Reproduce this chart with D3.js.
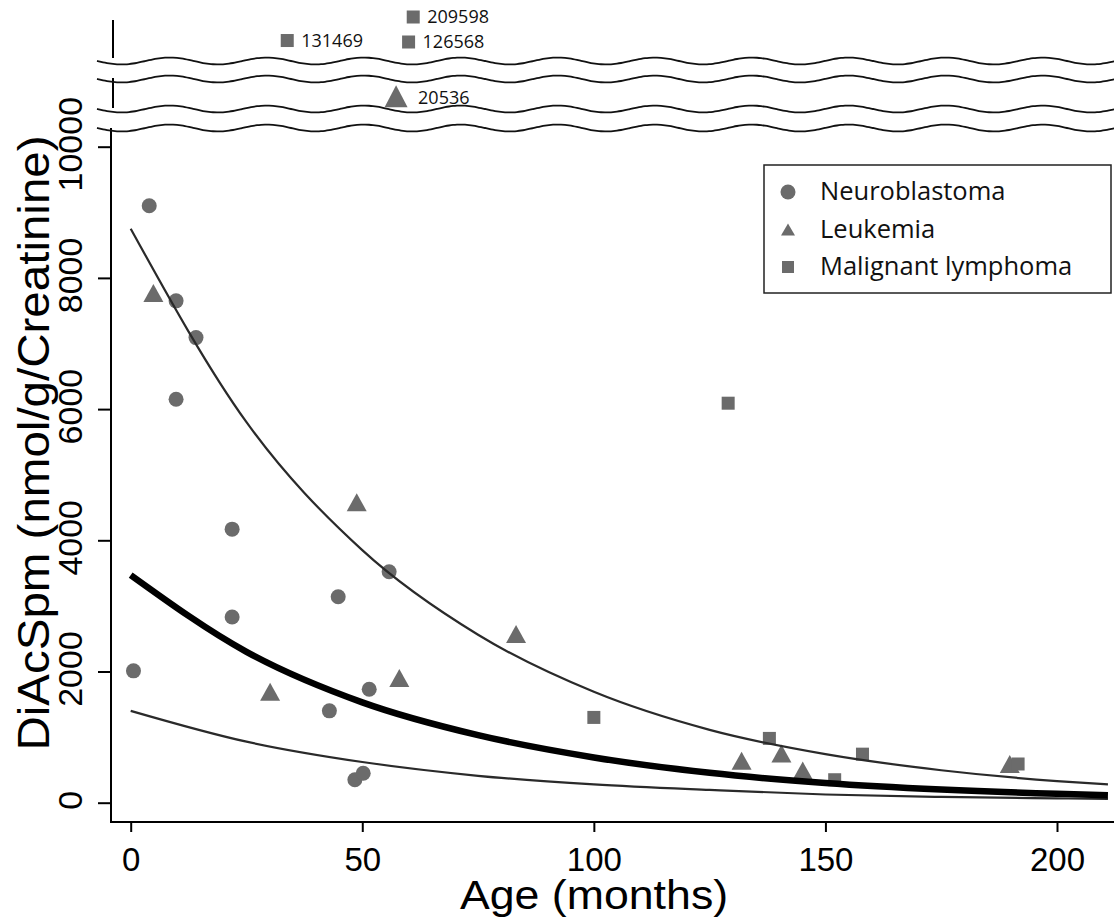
<!DOCTYPE html>
<html>
<head>
<meta charset="utf-8">
<script src="https://cdn.jsdelivr.net/npm/d3@7"></script>
<style>
  body { margin: 0; background: #fff; }
  .axis-text { font-family: "Liberation Sans", Arial, sans-serif; fill: #000; }
  .note { font-family: "Open Sans", "Noto Sans", sans-serif; fill: #111; }
</style>
</head>
<body>
<div id="chart"></div>
<script>
// ---- data ----
// age in months, DiAcSpm value
const neuroAge   = [0.6, 4.0, 9.8, 14.1, 9.8, 21.9, 21.9, 44.8, 55.8, 51.5, 42.9, 48.4, 50.2];
const neuroValue = [2010, 9100, 7650, 7090, 6150, 4170, 2830, 3140, 3520, 1730, 1400, 350, 450];

const leukAge   = [4.9, 30.1, 48.8, 58.0, 83.2, 131.9, 140.5, 145.1, 189.8];
const leukValue = [7770, 1690, 4580, 1900, 2570, 640, 750, 490, 590];

const lymphAge   = [100, 129, 137.9, 152, 158, 191.6];
const lymphValue = [1300, 6090, 980, 350, 740, 590];

// values above the axis break
const outlierAge   = [33.8, 61, 60, 57.3];
const outlierValue = [131469, 209598, 126568, 20536];
const outlierType  = ['lymph', 'lymph', 'lymph', 'leuk'];

// fitted curve and its band, read at these ages
const fitAge   = [0, 25, 50, 75, 100, 125, 150, 175, 200, 211];
const fitMid   = [3470, 2300, 1530, 1030, 690, 455, 300, 200, 135, 115];
const fitUpper = [8750, 5800, 3850, 2560, 1690, 1110, 740, 495, 330, 280];
const fitLower = [1400, 930, 620, 410, 280, 195, 125, 88, 66, 58];

const xTicks = [0, 50, 100, 150, 200];
const yTicks = [0, 2000, 4000, 6000, 8000, 10000];

const legendLabels = ['Neuroblastoma', 'Leukemia', 'Malignant lymphoma'];

// ---- chart ----
const W = 1114, H = 924;
const markColor = '#6b6b6b';

const svg = d3.select('#chart').append('svg')
  .attr('width', W).attr('height', H);

const x = d3.scaleLinear().domain([0, 200]).range([130.7, 1057]);
const y = d3.scaleLinear().domain([0, 10000]).range([802.7, 146.7]);
// scales for the two bands above the breaks
const yTop = d3.scaleLinear().domain([126568, 209598]).range([42, 17]);
const yMid = d3.scaleLinear().domain([20000, 21000]).range([106, 88]);

const axisX0 = 111, axisY0 = 822;

function triPath(cx, cy, w, h) {
  return `M${cx},${cy - h / 2}L${cx + w / 2},${cy + h / 2}L${cx - w / 2},${cy + h / 2}Z`;
}

// markers (drawn under the lines)
const marks = svg.append('g');

marks.selectAll('.neuro')
  .data(d3.zip(neuroAge, neuroValue))
  .join('circle')
  .attr('class', 'neuro')
  .attr('cx', d => x(d[0]))
  .attr('cy', d => y(d[1]))
  .attr('r', 7.5)
  .attr('fill', markColor);

marks.selectAll('.leuk')
  .data(d3.zip(leukAge, leukValue))
  .join('path')
  .attr('class', 'leuk')
  .attr('d', d => triPath(x(d[0]), y(d[1]), 20, 18))
  .attr('fill', markColor);

marks.selectAll('.lymph')
  .data(d3.zip(lymphAge, lymphValue))
  .join('rect')
  .attr('class', 'lymph')
  .attr('x', d => x(d[0]) - 6.5)
  .attr('y', d => y(d[1]) - 6.5)
  .attr('width', 13).attr('height', 13)
  .attr('fill', markColor);

// outliers above the breaks
const outliers = outlierAge.map((a, i) => ({ age: a, value: outlierValue[i], type: outlierType[i] }));
const og = svg.append('g');
outliers.forEach(d => {
  const cx = x(d.age);
  if (d.type === 'lymph') {
    const cy = yTop(d.value);
    og.append('rect')
      .attr('x', cx - 6.5).attr('y', cy - 6.5)
      .attr('width', 13).attr('height', 13)
      .attr('fill', markColor);
    og.append('text').attr('class', 'note')
      .attr('x', cx + 14).attr('y', cy).attr('dy', '0.36em')
      .style('font-size', '18px')
      .text(d.value);
  } else {
    const cy = yMid(d.value);
    og.append('path')
      .attr('d', triPath(cx, cy, 23, 22))
      .attr('fill', markColor);
    og.append('text').attr('class', 'note')
      .attr('x', cx + 22).attr('y', cy + 1).attr('dy', '0.36em')
      .style('font-size', '18px')
      .text(d.value);
  }
});

// fitted lines
const line = d3.line()
  .x(d => x(d[0]))
  .y(d => y(d[1]))
  .curve(d3.curveMonotoneX);

svg.append('path')
  .datum(d3.zip(fitAge, fitUpper))
  .attr('d', line)
  .attr('fill', 'none').attr('stroke', '#2a2a2a').attr('stroke-width', 2.2);

svg.append('path')
  .datum(d3.zip(fitAge, fitLower))
  .attr('d', line)
  .attr('fill', 'none').attr('stroke', '#2a2a2a').attr('stroke-width', 2.2);

svg.append('path')
  .datum(d3.zip(fitAge, fitMid))
  .attr('d', line)
  .attr('fill', 'none').attr('stroke', '#000').attr('stroke-width', 6.5);

// y axis
const yAxis = d3.axisLeft(y).tickValues(yTicks).tickSize(13).tickPadding(0)
  .tickFormat(d3.format('d'));
const yg = svg.append('g').attr('transform', `translate(${axisX0},0)`).call(yAxis);
yg.select('.domain').remove();
yg.selectAll('.tick line').attr('stroke', '#000').attr('stroke-width', 2);
yg.selectAll('.tick text')
  .attr('class', 'axis-text')
  .attr('x', 3).attr('y', -29).attr('dy', 0)
  .attr('text-anchor', 'middle')
  .attr('transform', 'rotate(-90)')
  .style('font-size', '34px');

// x axis
const xAxis = d3.axisBottom(x).tickValues(xTicks).tickSize(10).tickPadding(0);
const xg = svg.append('g').attr('transform', `translate(0,${axisY0})`).call(xAxis);
xg.select('.domain').remove();
xg.selectAll('.tick line').attr('stroke', '#000').attr('stroke-width', 2);
xg.selectAll('.tick text')
  .attr('class', 'axis-text')
  .attr('y', 49).attr('dy', 0)
  .style('font-size', '33px');

// axis lines (y axis broken in three pieces)
const axisLines = [
  [axisX0 + 2, 20, axisX0 + 2, 58],
  [axisX0 + 2, 78, axisX0 + 2, 108],
  [axisX0, 128, axisX0, axisY0 + 1],
  [axisX0 - 1, axisY0, W, axisY0]
];
svg.selectAll('.axline')
  .data(axisLines)
  .join('line')
  .attr('class', 'axline')
  .attr('x1', d => d[0]).attr('y1', d => d[1])
  .attr('x2', d => d[2]).attr('y2', d => d[3])
  .attr('stroke', '#000').attr('stroke-width', 2);

// wavy break lines
const breakY = [61, 79, 109, 128];
const wave = d3.line().curve(d3.curveBasis);
breakY.forEach(by => {
  const pts = d3.range(97, W + 4, 4).map(px => [px, by + 3.5 * Math.sin((px - 97) / 97 * 2 * Math.PI)]);
  svg.append('path')
    .attr('d', wave(pts))
    .attr('fill', 'none').attr('stroke', '#111').attr('stroke-width', 1.8);
});

// axis titles
svg.append('text').attr('class', 'axis-text')
  .attr('transform', 'translate(594,909) scale(1.09,1)')
  .attr('text-anchor', 'middle')
  .style('font-size', '41px')
  .text('Age (months)');

svg.append('text').attr('class', 'axis-text')
  .attr('transform', 'translate(49,443) rotate(-90) scale(1.08,1)')
  .attr('text-anchor', 'middle')
  .style('font-size', '44px')
  .text('DiAcSpm (nmol/g/Creatinine)');

// legend
const lg = svg.append('g').attr('transform', 'translate(764,165)');
lg.append('rect')
  .attr('width', 347).attr('height', 128)
  .attr('fill', '#fff').attr('stroke', '#222').attr('stroke-width', 1.5);

legendLabels.forEach((lab, i) => {
  const cy = 27 + i * 37.5;
  if (i === 0) {
    lg.append('circle').attr('cx', 24).attr('cy', cy).attr('r', 7.5).attr('fill', markColor);
  } else if (i === 1) {
    lg.append('path').attr('d', triPath(24, cy, 14, 12)).attr('fill', markColor);
  } else {
    lg.append('rect').attr('x', 18).attr('y', cy - 6).attr('width', 12).attr('height', 12).attr('fill', markColor);
  }
  lg.append('text').attr('class', 'note')
    .attr('x', 56).attr('y', cy + 8)
    .style('font-size', '25.5px')
    .text(lab);
});
</script>
</body>
</html>
